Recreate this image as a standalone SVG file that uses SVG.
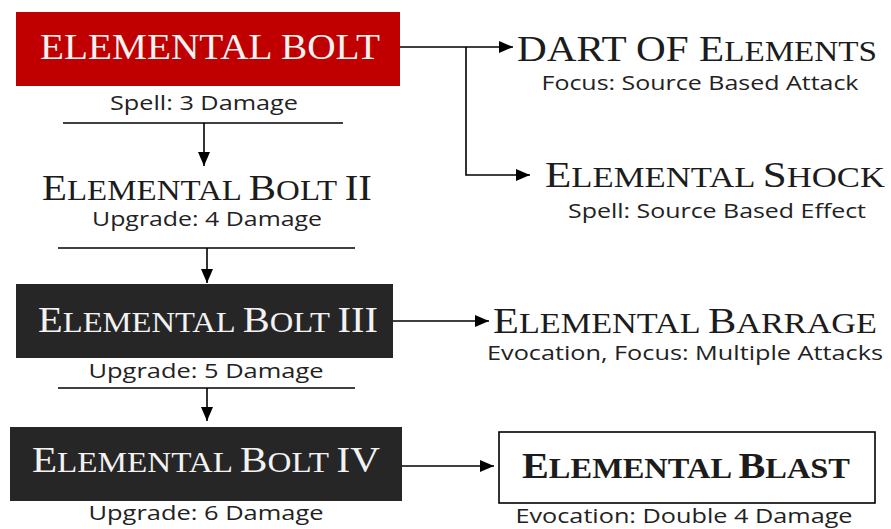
<svg xmlns="http://www.w3.org/2000/svg" width="891" height="529" viewBox="0 0 891 529">
<style>
.title{font-family:"Liberation Serif","Times New Roman",serif;font-size:36px;text-anchor:middle}
.sm{font-size:29px}
.dark{fill:#1c1c1c}
.light{fill:#f2f2f2}
.sub{font-family:"Open Sans","Segoe UI","DejaVu Sans",sans-serif;font-size:20px;fill:#222;text-anchor:middle}
.conn{stroke:#000;stroke-width:1.6;fill:none}
</style>
<defs>
<marker id="ah" markerUnits="userSpaceOnUse" markerWidth="14" markerHeight="12" refX="14" refY="6" orient="auto">
<path d="M0,0 L14,6 L0,12 z" fill="#000"/>
</marker>
</defs>
<rect width="891" height="529" fill="#fff"/>

<g id="connectors">
<line class="conn" x1="63" y1="123" x2="343" y2="123"/>
<line class="conn" x1="204" y1="123" x2="204" y2="166" marker-end="url(#ah)"/>
<line class="conn" x1="58" y1="248" x2="355" y2="248"/>
<line class="conn" x1="207" y1="248" x2="207" y2="283" marker-end="url(#ah)"/>
<line class="conn" x1="58" y1="388" x2="355" y2="388"/>
<line class="conn" x1="207" y1="388" x2="207" y2="421" marker-end="url(#ah)"/>
<line class="conn" x1="400" y1="47" x2="513" y2="47" marker-end="url(#ah)"/>
<polyline class="conn" points="466,47 466,175 530,175" marker-end="url(#ah)"/>
<line class="conn" x1="393" y1="321" x2="489" y2="321" marker-end="url(#ah)"/>
<line class="conn" x1="402" y1="466" x2="494" y2="466" marker-end="url(#ah)"/>
</g>

<g id="bolt1">
<rect x="16" y="12" width="384" height="74" fill="#c00000"/>
<text class="title light" x="210" y="59" textLength="340" lengthAdjust="spacingAndGlyphs">ELEMENTAL BOLT</text>
<text class="sub" x="204" y="110" textLength="188" lengthAdjust="spacingAndGlyphs">Spell: 3 Damage</text>
</g>

<g id="bolt2">
<text class="title dark" x="207" y="200" textLength="330" lengthAdjust="spacingAndGlyphs">E<tspan class="sm">LEMENTAL </tspan>B<tspan class="sm">OLT </tspan>II</text>
<text class="sub" x="207" y="226" textLength="230" lengthAdjust="spacingAndGlyphs">Upgrade: 4 Damage</text>
</g>

<g id="bolt3">
<rect x="16" y="284" width="377" height="74" fill="#262626"/>
<text class="title light" x="208" y="332" textLength="340" lengthAdjust="spacingAndGlyphs">E<tspan class="sm">LEMENTAL </tspan>B<tspan class="sm">OLT </tspan>III</text>
<text class="sub" x="206" y="378" textLength="235" lengthAdjust="spacingAndGlyphs">Upgrade: 5 Damage</text>
</g>

<g id="bolt4">
<rect x="10" y="427" width="392" height="74" fill="#262626"/>
<text class="title light" x="206" y="472" textLength="348" lengthAdjust="spacingAndGlyphs">E<tspan class="sm">LEMENTAL </tspan>B<tspan class="sm">OLT </tspan>IV</text>
<text class="sub" x="206" y="520" textLength="235" lengthAdjust="spacingAndGlyphs">Upgrade: 6 Damage</text>
</g>

<g id="dart">
<text class="title dark" x="697" y="61" textLength="360" lengthAdjust="spacingAndGlyphs">DART OF E<tspan class="sm">LEMENTS</tspan></text>
<text class="sub" x="700" y="90" textLength="317" lengthAdjust="spacingAndGlyphs">Focus: Source Based Attack</text>
</g>

<g id="shock">
<text class="title dark" x="715" y="187" textLength="340" lengthAdjust="spacingAndGlyphs">E<tspan class="sm">LEMENTAL </tspan>S<tspan class="sm">HOCK</tspan></text>
<text class="sub" x="717" y="218" textLength="298" lengthAdjust="spacingAndGlyphs">Spell: Source Based Effect</text>
</g>

<g id="barrage">
<text class="title dark" x="685" y="333" textLength="384" lengthAdjust="spacingAndGlyphs">E<tspan class="sm">LEMENTAL </tspan>B<tspan class="sm">ARRAGE</tspan></text>
<text class="sub" x="685" y="360" font-size="18.5" textLength="396" lengthAdjust="spacingAndGlyphs">Evocation, Focus: Multiple Attacks</text>
</g>

<g id="blast">
<rect x="499" y="432" width="376" height="71" fill="#fff" stroke="#000" stroke-width="1.6"/>
<text class="title dark" x="686" y="478" font-weight="bold" textLength="328" lengthAdjust="spacingAndGlyphs">E<tspan class="sm">LEMENTAL </tspan>B<tspan class="sm">LAST</tspan></text>
<text class="sub" x="684" y="523" textLength="337" lengthAdjust="spacingAndGlyphs">Evocation: Double 4 Damage</text>
</g>
</svg>
